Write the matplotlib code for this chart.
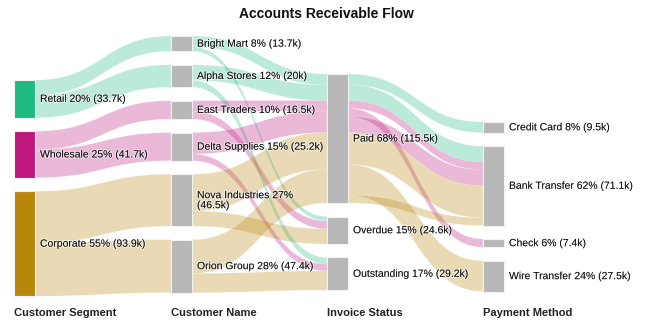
import textwrap
import matplotlib.pyplot as plt
import matplotlib.patheffects as pe
from matplotlib.path import Path
from matplotlib.patches import PathPatch, Rectangle

plt.rcParams['font.family'] = ['Liberation Sans', 'DejaVu Sans']

# Column 1 -> 2: segments and their customers (amounts in k)
segments = ["Retail", "Wholesale", "Corporate"]
customers = ["Bright Mart", "Alpha Stores", "East Traders", "Delta Supplies",
             "Nova Industries", "Orion Group"]
customer_segment = [0, 0, 1, 1, 2, 2]
customer_amount = [13.7, 20.0, 16.5, 25.2, 46.5, 47.4]

# Column 2 -> 3: customer -> invoice status
statuses = ["Paid", "Overdue", "Outstanding"]
status_customer = [0, 0, 1, 1, 2, 2, 3, 3, 4, 4, 5, 5]
status_target = [0, 1, 0, 2, 0, 1, 0, 2, 0, 1, 0, 2]
status_amount = [9.7, 4.0, 14.0, 6.0, 9.5, 7.0, 19.2, 6.0, 32.9, 13.6, 30.2, 17.2]

# Column 3 -> 4: paid invoices -> payment method
methods = ["Credit Card", "Bank Transfer", "Check", "Wire Transfer"]
paid_segment = [0, 0, 1, 1, 1, 2, 2, 2]
paid_method = [0, 1, 1, 2, 1, 1, 3, 1]
paid_amount = [9.5, 14.2, 7.0, 7.4, 14.3, 28.6, 27.5, 7.0]

headers = ["Customer Segment", "Customer Name", "Invoice Status", "Payment Method"]
seg_colors = ["#1fba80", "#c0187f", "#b8860b"]
node_gray = "#b7b7b7"

# links: (src col, src idx, tgt col, tgt idx, value, segment)
links = []
for i, (s, v) in enumerate(zip(customer_segment, customer_amount)):
    links.append((0, s, 1, i, v, s))
for c, t, v in zip(status_customer, status_target, status_amount):
    links.append((1, c, 2, t, v, customer_segment[c]))
for s, m, v in zip(paid_segment, paid_method, paid_amount):
    links.append((2, 0, 3, m, v, s))

names = [segments, customers, statuses, methods]
values = [[0.0] * len(n) for n in names]
for sc, si, tc, ti, v, g in links:
    if sc == 0:
        values[0][si] += v
    values[tc][ti] += v

# layout in pixels
scale = 1.117
gap = 13.5
col_x = [14, 171, 327, 483]
col_top = [80, 36, 74, 122]
node_w = 21

node_y = []
for c, vals in enumerate(values):
    y = col_top[c]
    ys = []
    for v in vals:
        ys.append(y)
        y += v * scale + gap
    node_y.append(ys)

fig = plt.figure(figsize=(6.5, 3.32), dpi=100)
ax = fig.add_axes([0, 0, 1, 1])
ax.set_xlim(0, 650)
ax.set_ylim(332, 0)
ax.axis("off")

out_off = [[0.0] * len(n) for n in names]
in_off = [[0.0] * len(n) for n in names]
for sc, si, tc, ti, v, g in links:
    h = v * scale
    x0 = col_x[sc] + node_w
    x1 = col_x[tc]
    a0 = node_y[sc][si] + out_off[sc][si]
    b0 = node_y[tc][ti] + in_off[tc][ti]
    out_off[sc][si] += h
    in_off[tc][ti] += h
    xm = (x0 + x1) / 2
    verts = [(x0, a0), (xm, a0), (xm, b0), (x1, b0),
             (x1, b0 + h), (xm, b0 + h), (xm, a0 + h), (x0, a0 + h), (x0, a0)]
    codes = [Path.MOVETO, Path.CURVE4, Path.CURVE4, Path.CURVE4,
             Path.LINETO, Path.CURVE4, Path.CURVE4, Path.CURVE4, Path.CLOSEPOLY]
    ax.add_patch(PathPatch(Path(verts, codes), facecolor=seg_colors[g], alpha=0.3,
                           edgecolor=(1, 1, 1, 0.25), lw=0.3, zorder=1))

halo = [pe.withStroke(linewidth=1.5, foreground=(1, 1, 1, 0.5))]
for c, vals in enumerate(values):
    total = sum(vals)
    for i, v in enumerate(vals):
        h = v * scale
        color = seg_colors[i] if c == 0 else node_gray
        ax.add_patch(Rectangle((col_x[c], node_y[c][i]), node_w, h, facecolor=color,
                               edgecolor="#f2f2f2", lw=0.8, zorder=2))
        label = f"{names[c][i]} {v / total:.0%} ({v:g}k)"
        label = textwrap.fill(label, width=26)
        ax.text(col_x[c] + node_w + 5, node_y[c][i] + h / 2, label, fontsize=7.5,
                ha="left", va="center", linespacing=1.0, color="#111111",
                path_effects=halo, zorder=3)
    ax.text(col_x[c], 313, headers[c], fontsize=8, fontweight="bold",
            ha="left", va="center", color="#222222")

ax.text(326, 14, "Accounts Receivable Flow", fontsize=10, fontweight="bold",
        ha="center", va="center", color="#111111")

fig.savefig("out.png", dpi=100)
